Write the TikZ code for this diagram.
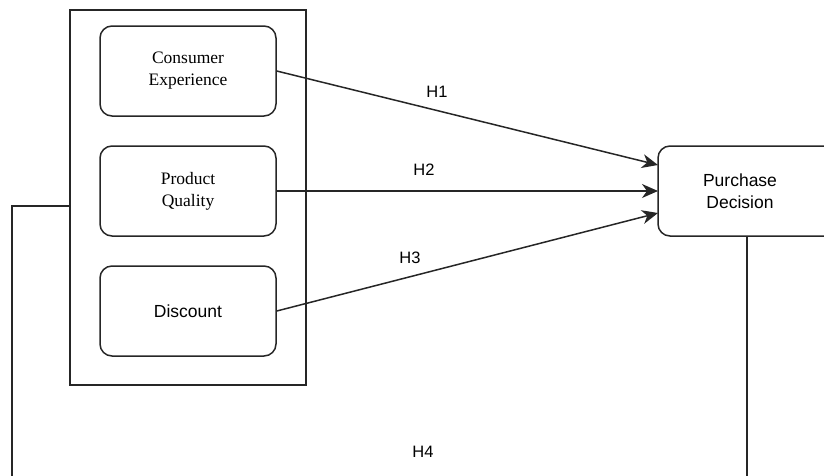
\documentclass[tikz,border=0pt]{standalone}
\usepackage{fontspec}
\setmainfont{Liberation Serif}
\setsansfont{Liberation Sans}
\usetikzlibrary{arrows.meta}
\begin{document}
\begin{tikzpicture}[x=1pt,y=-1pt,
  box/.style={draw=black!85,line width=1.5pt,rounded corners=12pt,minimum width=176pt,minimum height=90pt,align=center,inner sep=0pt},
  serifbox/.style={box,font=\fontsize{17.5}{22}\selectfont\rmfamily},
  sansbox/.style={box,font=\fontsize{17.5}{22}\selectfont\sffamily},
  link/.style={draw=black!85,line width=1.5pt,-{Stealth[length=16pt,width=14pt,inset=5pt]}},
  wire/.style={draw=black!85,line width=1.5pt},
  hlabel/.style={font=\fontsize{16.5}{18}\selectfont\sffamily}]
\useasboundingbox (0,0) rectangle (824,475);
% outer group frame
\node (group) [draw=black!85,line width=1.5pt,minimum width=236pt,minimum height=375pt,inner sep=0pt] at (188,197.5) {};
% independent variables
\node (ce) [serifbox] at (188,71) {Consumer\\Experience};
\node (pq) [serifbox] at (188,191) {Product\\Quality};
\node (dc) [sansbox] at (188,311) {Discount};
% dependent variable
\node (pd) [sansbox,minimum width=180pt] at (748,191) {};
\node (pdtext) [font=\fontsize{17.5}{22}\selectfont\sffamily,align=center] at (740,191) {Purchase\\Decision};
% hypotheses
\coordinate (t1) at (658,165);
\coordinate (t2) at (658,191);
\coordinate (t3) at (658,213);
\draw[link] (ce.east) -- (t1);
\draw[link] (pq.east) -- (t2);
\draw[link] (dc.east) -- (t3);
\node (h1) [hlabel] at (437,92) {H1};
\node (h2) [hlabel] at (424,170) {H2};
\node (h3) [hlabel] at (410,258) {H3};
% moderating loop below
\coordinate (lg) at (group.west |- 0,206);
\coordinate (lc) at (12,206);
\coordinate (lb) at (12,482);
\coordinate (rt) at (747,236);
\coordinate (rb) at (747,482);
\draw[wire] (lg) -- (lc) -- (lb);
\draw[wire] (rt) -- (rb);
\node (h4) [hlabel] at (423,452) {H4};
\end{tikzpicture}
\end{document}
